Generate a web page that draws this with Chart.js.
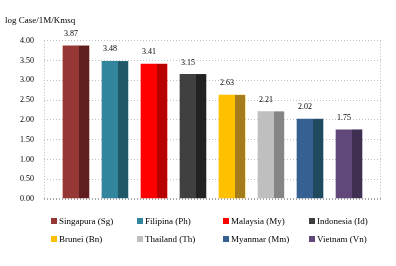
<!DOCTYPE html>
<html>
<head>
<meta charset="utf-8">
<script src="https://cdn.jsdelivr.net/npm/chart.js@4.4.1/dist/chart.umd.min.js"></script>
<style>
  html, body { margin: 0; padding: 0; background: #FFFFFF; }
  #wrap { position: relative; width: 396px; height: 266px; }
  #legend { position: absolute; left: 0; top: 0; width: 396px; height: 266px; pointer-events: none;
            font-family: 'Liberation Serif', serif; font-size: 9px; color: #000000; }
  .item { position: absolute; white-space: nowrap; line-height: 10px; }
  .box { display: inline-block; width: 6px; height: 6px; margin-right: 2px; vertical-align: 0px; }
</style>
</head>
<body>
<div id="wrap">
  <canvas id="chart" width="396" height="266"></canvas>
  <div id="legend"></div>
</div>
<script>
// Data
const CATEGORIES = ['Singapura (Sg)', 'Filipina (Ph)', 'Malaysia (My)', 'Indonesia (Id)',
                    'Brunei (Bn)', 'Thailand (Th)', 'Myanmar (Mm)', 'Vietnam (Vn)'];
const VALUES = [3.87, 3.48, 3.41, 3.15, 2.63, 2.21, 2.02, 1.75];
const Y_TICKS = [0, 0.5, 1, 1.5, 2, 2.5, 3, 3.5, 4];
const TITLE = 'log Case/1M/Kmsq';

// front / side colours (Excel-style 3D columns)
const FRONT_COLORS = ['#953735', '#31859C', '#FF0000', '#404040', '#FFC000', '#BFBFBF', '#376092', '#60497A'];
const SIDE_COLORS  = ['#5E1F1E', '#205867', '#B80000', '#222222', '#A47C1B', '#858585', '#1F4A5E', '#3F3052'];

const FONT = { family: 'Liberation Serif', size: 8 };

// darker side face + value labels on top of each column
const columnDecor = {
    id: 'columnDecor',
    afterDatasetsDraw(chart) {
        const ctx = chart.ctx;
        const meta = chart.getDatasetMeta(0);
        ctx.save();
        meta.data.forEach((bar, i) => {
            const right = bar.x + bar.width / 2;
            ctx.fillStyle = SIDE_COLORS[i];
            ctx.fillRect(right - 10, bar.y, 10, bar.base - bar.y);
            ctx.fillStyle = '#000000';
            ctx.font = '8px "Liberation Serif"';
            ctx.textAlign = 'center';
            ctx.textBaseline = 'middle';
            ctx.fillText(VALUES[i].toFixed(2), bar.x - 5, bar.y - 12);
        });
        ctx.restore();
    }
};

// dotted frame at the left and right of the plot area
const plotFrame = {
    id: 'plotFrame',
    beforeDatasetsDraw(chart) {
        const { ctx, chartArea } = chart;
        ctx.save();
        ctx.strokeStyle = '#BFBFBF';
        ctx.lineWidth = 1;
        ctx.setLineDash([1, 2]);
        [chartArea.left + 0.5, chartArea.right - 0.5].forEach(x => {
            ctx.beginPath();
            ctx.moveTo(x, chartArea.top);
            ctx.lineTo(x, chartArea.bottom);
            ctx.stroke();
        });
        ctx.restore();
    }
};

new Chart(document.getElementById('chart').getContext('2d'), {
    type: 'bar',
    data: {
        datasets: [{
            label: TITLE,
            data: VALUES.map((v, i) => ({ x: i, y: v })),
            backgroundColor: FRONT_COLORS,
            borderWidth: 0,
            barThickness: 26
        }]
    },
    options: {
        responsive: false,
        animation: false,
        layout: { padding: { left: 5, right: 15, top: 0, bottom: 67 } },
        plugins: {
            legend: { display: false },
            tooltip: { enabled: false },
            title: {
                display: true,
                text: TITLE,
                align: 'start',
                color: '#000000',
                font: { family: 'Liberation Serif', size: 9, weight: 'normal' },
                padding: { top: 15, bottom: 15 }
            }
        },
        scales: {
            x: {
                type: 'linear',
                min: -0.82,
                max: 7.82,
                offset: false,
                display: false
            },
            y: {
                min: 0,
                max: 4,
                afterFit: scale => { scale.width = 39; },
                afterBuildTicks: scale => { scale.ticks = Y_TICKS.map(v => ({ value: v })); },
                border: { display: false, dash: [1, 2] },
                grid: {
                    drawTicks: false,
                    color: ctx => ctx.tick && ctx.tick.value === 0 ? '#A6A6A6' : '#BFBFBF',
                    lineWidth: ctx => ctx.tick && ctx.tick.value === 0 ? 2 : 1
                },
                ticks: {
                    padding: 10,
                    color: '#000000',
                    font: FONT,
                    callback: v => Number(v).toFixed(2)
                }
            }
        }
    },
    plugins: [plotFrame, columnDecor]
});

// legend: 4 columns x 2 rows, like the reference
const legend = document.getElementById('legend');
CATEGORIES.forEach((name, i) => {
    const col = i % 4, row = Math.floor(i / 4);
    const item = document.createElement('div');
    item.className = 'item';
    item.style.left = (51 + col * 86) + 'px';
    item.style.top = (216 + row * 18) + 'px';
    const box = document.createElement('span');
    box.className = 'box';
    box.style.background = FRONT_COLORS[i];
    item.appendChild(box);
    item.appendChild(document.createTextNode(name));
    legend.appendChild(item);
});
</script>
</body>
</html>
